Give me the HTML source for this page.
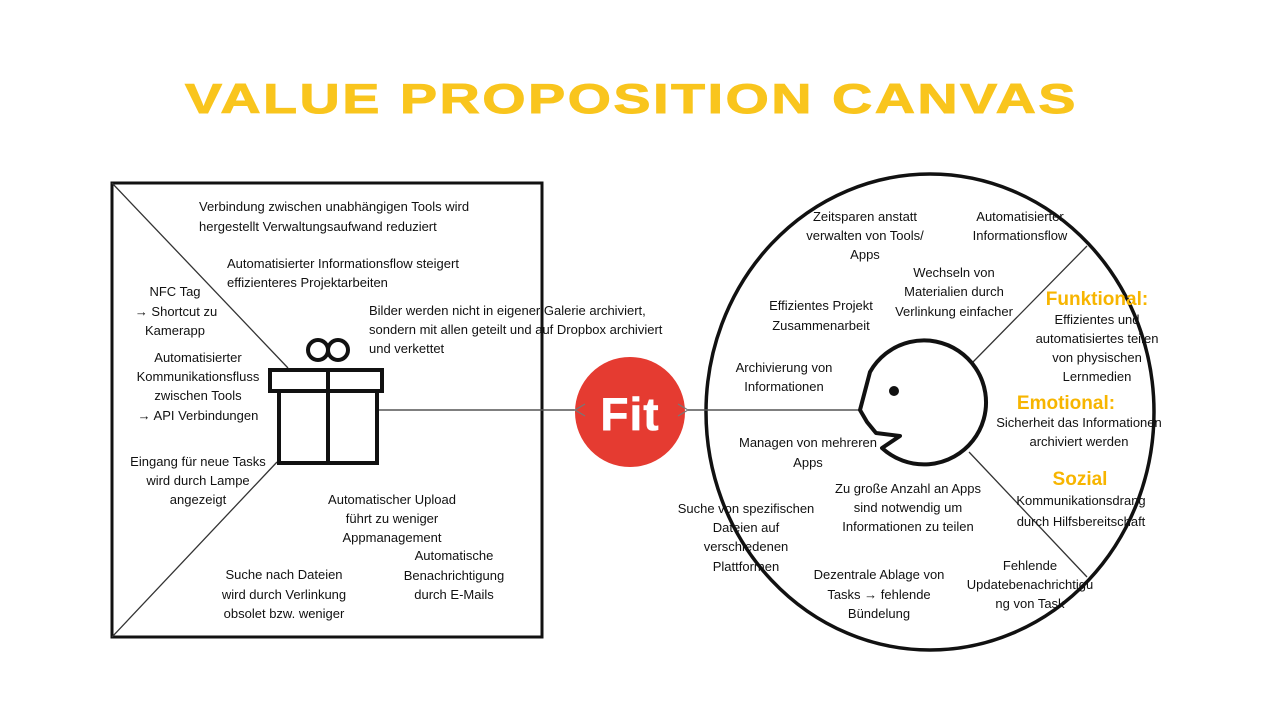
<!DOCTYPE html>
<html><head><meta charset="utf-8"><style>
html,body{margin:0;padding:0;background:#fff;}
svg{display:block;font-family:"Liberation Sans",sans-serif;}
.t{font-size:13px;fill:#111;text-anchor:middle;}
.l{text-anchor:start;}
.y{font-size:19px;font-weight:bold;fill:#f7b500;text-anchor:middle;}
</style></head><body>
<svg width="1280" height="720" viewBox="0 0 1280 720">
<text x="185" y="113" textLength="893" lengthAdjust="spacingAndGlyphs" style="font-size:42px;font-weight:900;fill:#f9c51d;letter-spacing:2px;stroke:#f9c51d;stroke-width:1">VALUE PROPOSITION CANVAS</text>

<g>
<rect x="112" y="183" width="430" height="454" fill="none" stroke="#111" stroke-width="3"/>
<line x1="112" y1="183" x2="288" y2="368" stroke="#333" stroke-width="1.3"/>
<line x1="112" y1="637" x2="277" y2="462" stroke="#333" stroke-width="1.3"/>
<line x1="378" y1="410" x2="575" y2="410" stroke="#555" stroke-width="1.5"/>
<g fill="none" stroke="#111" stroke-width="4">
<circle cx="318" cy="350" r="10"/><circle cx="338" cy="350" r="10"/>
<rect x="270" y="370" width="112" height="21" fill="#fff"/>
<rect x="279" y="391" width="98" height="72"/>
<line x1="328" y1="370" x2="328" y2="463"/>
</g>
</g>
<g>
<text class="t l" x="199" y="211">Verbindung zwischen unabhängigen Tools wird</text>
<text class="t l" x="199" y="231">hergestellt  Verwaltungsaufwand reduziert</text>
<text class="t l" x="227" y="268">Automatisierter Informationsflow steigert</text>
<text class="t l" x="227" y="287">effizienteres Projektarbeiten</text>
<text class="t" x="175" y="296">NFC Tag</text>
<text class="t" x="176" y="316">→ Shortcut zu</text>
<text class="t" x="175" y="335">Kamerapp</text>
<text class="t l" x="369" y="315">Bilder werden nicht in eigener Galerie archiviert,</text>
<text class="t l" x="369" y="334">sondern mit allen geteilt und auf Dropbox archiviert</text>
<text class="t l" x="369" y="353">und verkettet</text>
<text class="t" x="198" y="362">Automatisierter</text>
<text class="t" x="198" y="381">Kommunikationsfluss</text>
<text class="t" x="198" y="400">zwischen Tools</text>
<text class="t" x="198" y="420">→ API Verbindungen</text>
<text class="t" x="198" y="466">Eingang für neue Tasks</text>
<text class="t" x="198" y="485">wird durch Lampe</text>
<text class="t" x="198" y="504">angezeigt</text>
<text class="t" x="392" y="504">Automatischer Upload</text>
<text class="t" x="392" y="523">führt zu weniger</text>
<text class="t" x="392" y="542">Appmanagement</text>
<text class="t" x="454" y="560">Automatische</text>
<text class="t" x="454" y="580">Benachrichtigung</text>
<text class="t" x="454" y="599">durch E-Mails</text>
<text class="t" x="284" y="579">Suche nach Dateien</text>
<text class="t" x="284" y="599">wird durch Verlinkung</text>
<text class="t" x="284" y="618">obsolet bzw. weniger</text>
</g>

<g>
<circle cx="630" cy="412" r="55" fill="#e53b31"/>
<text x="630" y="430" style="font-size:46px;font-weight:bold;fill:#fff;text-anchor:middle;stroke:#fff;stroke-width:0.6;letter-spacing:1px">Fit</text>
<path d="M585 404 L575 410 L585 416" fill="none" stroke="#777" stroke-width="1.2"/>
<path d="M678 404 L688 410 L678 416" fill="none" stroke="#777" stroke-width="1.2"/>
</g>

<g>
<ellipse cx="930" cy="412" rx="224" ry="238" fill="none" stroke="#111" stroke-width="3.5"/>
<line x1="688" y1="410" x2="860" y2="410" stroke="#555" stroke-width="1.5"/>
<line x1="973" y1="362" x2="1087" y2="246" stroke="#333" stroke-width="1.3"/>
<line x1="969" y1="452" x2="1087" y2="577" stroke="#333" stroke-width="1.3"/>
<path d="M870 372 L860 410 L867 422 L876 433 L900 436 L882 448 A62 62 0 1 0 870 372 Z" fill="#fff" stroke="#111" stroke-width="4" stroke-linejoin="round"/>
<circle cx="894" cy="391" r="5" fill="#111"/>
</g>
<g>
<text class="t" x="865" y="221">Zeitsparen anstatt</text>
<text class="t" x="865" y="240">verwalten von Tools/</text>
<text class="t" x="865" y="259">Apps</text>
<text class="t" x="1020" y="221">Automatisierter</text>
<text class="t" x="1020" y="240">Informationsflow</text>
<text class="t" x="954" y="277">Wechseln von</text>
<text class="t" x="954" y="296">Materialien durch</text>
<text class="t" x="954" y="316">Verlinkung einfacher</text>
<text class="t" x="821" y="310">Effizientes Projekt</text>
<text class="t" x="821" y="330">Zusammenarbeit</text>
<text class="y" x="1097" y="305">Funktional:</text>
<text class="t" x="1097" y="324">Effizientes und</text>
<text class="t" x="1097" y="343">automatisiertes teilen</text>
<text class="t" x="1097" y="362">von physischen</text>
<text class="t" x="1097" y="381">Lernmedien</text>
<text class="t" x="784" y="372">Archivierung von</text>
<text class="t" x="784" y="391">Informationen</text>
<text class="y" x="1066" y="409">Emotional:</text>
<text class="t" x="1079" y="427">Sicherheit das Informationen</text>
<text class="t" x="1079" y="446">archiviert werden</text>
<text class="t" x="808" y="447">Managen von mehreren</text>
<text class="t" x="808" y="467">Apps</text>
<text class="y" x="1080" y="485">Sozial</text>
<text class="t" x="1081" y="505">Kommunikationsdrang</text>
<text class="t" x="1081" y="526">durch Hilfsbereitschaft</text>
<text class="t" x="908" y="493">Zu große Anzahl an Apps</text>
<text class="t" x="908" y="512">sind notwendig um</text>
<text class="t" x="908" y="531">Informationen zu teilen</text>
<text class="t" x="746" y="513">Suche von spezifischen</text>
<text class="t" x="746" y="532">Dateien auf</text>
<text class="t" x="746" y="551">verschiedenen</text>
<text class="t" x="746" y="571">Plattformen</text>
<text class="t" x="879" y="579">Dezentrale Ablage von</text>
<text class="t" x="879" y="599">Tasks → fehlende</text>
<text class="t" x="879" y="618">Bündelung</text>
<text class="t" x="1030" y="570">Fehlende</text>
<text class="t" x="1030" y="589">Updatebenachrichtigu</text>
<text class="t" x="1030" y="608">ng von Task</text>
</g>
</svg>
</body></html>
